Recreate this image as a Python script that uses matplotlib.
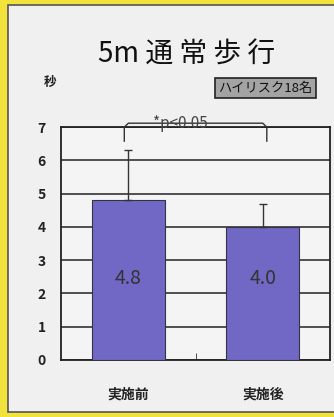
import matplotlib
matplotlib.use("Agg")
import matplotlib.pyplot as plt
from matplotlib.patches import Rectangle

plt.rcParams['font.family'] = ['Noto Sans CJK JP', 'DejaVu Sans']

# データ
labels = ["実施前", "実施後"]
means = [4.8, 4.0]
sds = [1.5, 0.7]
value_text = ["4.8", "4.0"]
yticks = [0, 1, 2, 3, 4, 5, 6, 7]

fig = plt.figure(figsize=(3.34, 4.17), dpi=100)
fig.patch.set_facecolor("#f2e33c")

# 内側のパネル
panel = Rectangle((8 / 334, 0.012), 1.0, 0.976, transform=fig.transFigure,
                  facecolor="#f0f0f0", edgecolor="#555555", lw=1.2, zorder=-5)
fig.patches.append(panel)

ax = fig.add_axes([0.183, 0.137, 0.805, 0.558])
ax.set_zorder(2)
ax.set_facecolor("#f4f4f4")
x = range(len(labels))
ax.bar(x, means, width=0.54, color="#7068c4", edgecolor="#333344", lw=0.8, zorder=3)
ax.errorbar(x, means, yerr=[[0, 0], sds], fmt="none", ecolor="#333333",
            elinewidth=1.0, capsize=3, capthick=1.0, zorder=4)
for xi, m, t in zip(x, means, value_text):
    ax.text(xi, 2.45, t, ha="center", va="center", fontsize=14,
            color="#333333", zorder=5)

ax.set_xlim(-0.5, 1.5)
ax.set_ylim(0, 7)
ax.set_yticks(yticks)
ax.yaxis.grid(True, color="#222222", lw=1.1, zorder=1)
ax.set_axisbelow(True)
ax.tick_params(axis="y", length=0, labelsize=10, pad=11, labelcolor="#222222")
ax.set_xticks(list(x))
ax.set_xticklabels(labels, fontsize=10, fontweight="bold", color="#222222")
ax.tick_params(axis="x", length=0, pad=20)
ax.set_xticks([0.5], minor=True)
ax.tick_params(axis="x", which="minor", direction="in", length=5, color="#333333")
for s in ax.spines.values():
    s.set_color("#222222")
    s.set_linewidth(1.3)
for lab in ax.get_yticklabels():
    lab.set_fontweight("bold")

# 有意差のブラケット
ax.plot([-0.03, -0.03, 0.0, 1.0, 1.03, 1.03],
        [6.58, 7.0, 7.12, 7.12, 7.0, 6.58],
        color="#333333", lw=1.0, clip_on=False, zorder=6)
ax.text(0.39, 7.12, "*p<0.05", ha="center", va="center", fontsize=11,
        color="#444444", clip_on=False, zorder=7)

fig.text(0.56, 0.868, "5m 通 常 歩 行", ha="center", va="center", fontsize=20,
         color="#111111")
fig.text(0.15, 0.803, "秒", ha="center", va="center", fontsize=9,
         fontweight="bold", color="#222222")
fig.text(0.795, 0.789, "ハイリスク18名", ha="center", va="center", fontsize=9.5,
         color="#111111",
         bbox=dict(boxstyle="square,pad=0.25", facecolor="#a3a3a3",
                   edgecolor="#222222", lw=1.2))

fig.savefig("out.png", dpi=100, facecolor=fig.get_facecolor())
